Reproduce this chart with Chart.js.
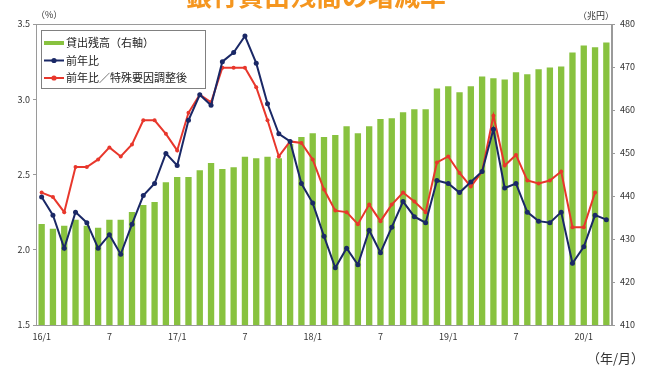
<!DOCTYPE html>
<html lang="ja">
<head>
<meta charset="utf-8">
<title>銀行貸出残高の増減率</title>
<script src="https://cdn.jsdelivr.net/npm/chart.js@4.4.1/dist/chart.umd.min.js"></script>
<style>
  html, body { margin: 0; padding: 0; background: #fff; }
  #wrap { position: relative; width: 646px; height: 369px; }
</style>
</head>
<body>
<div id="wrap"><canvas id="loanChart" width="646" height="369"></canvas></div>
<script>
// monthly, 2016/1 - 2020/3
const months = [
  '16/1', '16/2', '16/3', '16/4', '16/5', '16/6', '16/7', '16/8', '16/9', '16/10', '16/11', '16/12',
  '17/1', '17/2', '17/3', '17/4', '17/5', '17/6', '17/7', '17/8', '17/9', '17/10', '17/11', '17/12',
  '18/1', '18/2', '18/3', '18/4', '18/5', '18/6', '18/7', '18/8', '18/9', '18/10', '18/11', '18/12',
  '19/1', '19/2', '19/3', '19/4', '19/5', '19/6', '19/7', '19/8', '19/9', '19/10', '19/11', '19/12',
  '20/1', '20/2', '20/3'
];

// 貸出残高 (兆円, right axis)
const balance = [
  433.5, 432.4, 433.1, 434.5, 433.1, 432.6, 434.5, 434.5, 436.3, 437.9, 438.6, 443.2,
  444.4, 444.4, 446.0, 447.7, 446.3, 446.7, 449.1, 448.8, 449.1, 448.8, 452.1, 453.7,
  454.6, 453.7, 454.2, 456.2, 454.6, 456.2, 457.9, 458.1, 459.5, 460.2, 460.2, 465.0,
  465.5, 464.1, 465.5, 467.8, 467.4, 467.1, 468.8, 468.3, 469.5, 469.9, 470.1, 473.4,
  475.0, 474.6, 475.7
];

// 前年比 (%)
const yoy = [
  2.35, 2.23, 2.01, 2.25, 2.18, 2.01, 2.10, 1.97, 2.17, 2.36, 2.44, 2.64,
  2.56, 2.86, 3.03, 2.96, 3.25, 3.31, 3.42, 3.24, 2.97, 2.77, 2.72, 2.44,
  2.31, 2.09, 1.88, 2.01, 1.90, 2.13, 1.98, 2.15, 2.32, 2.22, 2.18, 2.46,
  2.44, 2.38, 2.45, 2.52, 2.80, 2.41, 2.44, 2.25, 2.19, 2.18, 2.25, 1.91,
  2.02, 2.23, 2.20
];

// 前年比／特殊要因調整後 (%), no value yet for the last month
const yoyAdjusted = [
  2.38, 2.35, 2.25, 2.55, 2.55, 2.60, 2.68, 2.62, 2.70, 2.86, 2.86, 2.77,
  2.66, 2.91, 3.03, 2.98, 3.21, 3.21, 3.21, 3.08, 2.86, 2.62, 2.72, 2.71,
  2.60, 2.40, 2.26, 2.25, 2.17, 2.30, 2.19, 2.30, 2.38, 2.32, 2.25, 2.58,
  2.62, 2.51, 2.42, 2.52, 2.89, 2.56, 2.63, 2.46, 2.44, 2.46, 2.52, 2.15,
  2.15, 2.38, null
];

const leftTicks = [1.5, 2.0, 2.5, 3.0, 3.5];
const rightTicks = [410, 420, 430, 440, 450, 460, 470, 480];

const GREEN = '#88c23f';
const NAVY = '#1a2866';
const RED = '#e8372c';
const AXIS = '#9a9a9a';
const TEXT = '#333333';

Chart.defaults.font.family = '"Noto Sans CJK JP", "Noto Sans", sans-serif';
Chart.defaults.font.size = 9;
Chart.defaults.color = TEXT;

// frame around the plot area, title and unit captions
const decorations = {
  id: 'decorations',
  afterDraw(chart) {
    const { ctx, chartArea: a } = chart;
    ctx.save();
    ctx.strokeStyle = AXIS;
    ctx.lineWidth = 1;
    ctx.strokeRect(a.left + 0.5, a.top + 0.5, a.right - a.left - 1, a.bottom - a.top);

    ctx.fillStyle = '#f5961f';
    ctx.font = 'bold 26px "Noto Sans CJK JP", sans-serif';
    ctx.textAlign = 'center';
    ctx.textBaseline = 'alphabetic';
    ctx.fillText('銀行貸出残高の増減率', 316, 6);

    ctx.fillStyle = TEXT;
    ctx.font = '9px "Noto Sans CJK JP", sans-serif';
    ctx.textBaseline = 'middle';
    ctx.textAlign = 'left';
    ctx.fillText('（%）', 36, 15);
    ctx.textAlign = 'right';
    ctx.fillText('（兆円）', a.right + 2, 16);
    ctx.font = '13px "Noto Sans CJK JP", sans-serif';
    ctx.fillText('（年/月）', 644, 358);
    ctx.restore();
  }
};

// boxed legend in the upper left of the plot
const boxLegend = {
  id: 'boxLegend',
  afterDraw(chart) {
    const { ctx } = chart;
    const x = 41, y = 30, w = 164, h = 58;
    ctx.save();
    ctx.fillStyle = '#fff';
    ctx.fillRect(x, y, w, h);
    ctx.strokeStyle = '#808080';
    ctx.lineWidth = 1;
    ctx.strokeRect(x + 0.5, y + 0.5, w, h);

    ctx.font = '11px "Noto Sans CJK JP", sans-serif';
    ctx.textBaseline = 'middle';
    ctx.textAlign = 'left';
    chart.data.datasets.forEach((ds, i) => {
      const cy = y + 13 + i * 17.5;
      if (ds.type === 'bar') {
        ctx.fillStyle = ds.backgroundColor;
        ctx.fillRect(x + 3, cy - 2, 20, 4);
      } else {
        ctx.strokeStyle = ds.borderColor;
        ctx.lineWidth = 2;
        ctx.beginPath();
        ctx.moveTo(x + 3, cy);
        ctx.lineTo(x + 23, cy);
        ctx.stroke();
        ctx.fillStyle = ds.borderColor;
        ctx.beginPath();
        ctx.arc(x + 13, cy, 2.6, 0, Math.PI * 2);
        ctx.fill();
      }
      ctx.fillStyle = '#222';
      ctx.fillText(ds.label, x + 25, cy);
    });
    ctx.restore();
  }
};

new Chart('loanChart', {
  data: {
    labels: months,
    datasets: [
      {
        type: 'bar',
        label: '貸出残高（右軸）',
        data: balance,
        yAxisID: 'y1',
        backgroundColor: GREEN,
        barPercentage: 0.56,
        categoryPercentage: 1,
        order: 3
      },
      {
        type: 'line',
        label: '前年比',
        data: yoy,
        yAxisID: 'y',
        borderColor: NAVY,
        backgroundColor: NAVY,
        borderWidth: 2,
        pointRadius: 2.5,
        pointBorderWidth: 0,
        tension: 0,
        order: 1
      },
      {
        type: 'line',
        label: '前年比／特殊要因調整後',
        data: yoyAdjusted,
        yAxisID: 'y',
        borderColor: RED,
        backgroundColor: RED,
        borderWidth: 2,
        pointRadius: 2,
        pointBorderWidth: 0,
        tension: 0,
        order: 2
      }
    ]
  },
  options: {
    responsive: false,
    animation: false,
    layout: { padding: { top: 24, left: 0, right: 0, bottom: 0 } },
    plugins: {
      legend: { display: false },
      title: { display: false },
      tooltip: { enabled: false }
    },
    scales: {
      x: {
        offset: true,
        grid: { display: false },
        border: { color: AXIS },
        ticks: {
          autoSkip: false,
          maxRotation: 0,
          padding: -2,
          callback: (value, index) => {
            const m = months[index];
            if (m.endsWith('/1')) return m;
            if (m.endsWith('/7')) return '7';
            return '';
          }
        },
        afterFit: s => { s.height = 44; }
      },
      y: {
        position: 'left',
        min: leftTicks[0],
        max: leftTicks[leftTicks.length - 1],
        afterBuildTicks: s => { s.ticks = leftTicks.map(v => ({ value: v })); },
        ticks: { padding: 3, callback: v => Number(v).toFixed(1) },
        grid: { drawOnChartArea: false, tickLength: 3, color: AXIS },
        border: { color: AXIS },
        afterFit: s => { s.width = 36; }
      },
      y1: {
        position: 'right',
        min: rightTicks[0],
        max: rightTicks[rightTicks.length - 1],
        afterBuildTicks: s => { s.ticks = rightTicks.map(v => ({ value: v })); },
        ticks: { padding: 5 },
        grid: { drawOnChartArea: false, tickLength: 3, color: AXIS },
        border: { color: AXIS },
        afterFit: s => { s.width = 34; }
      }
    }
  },
  plugins: [decorations, boxLegend]
});
</script>
</body>
</html>
